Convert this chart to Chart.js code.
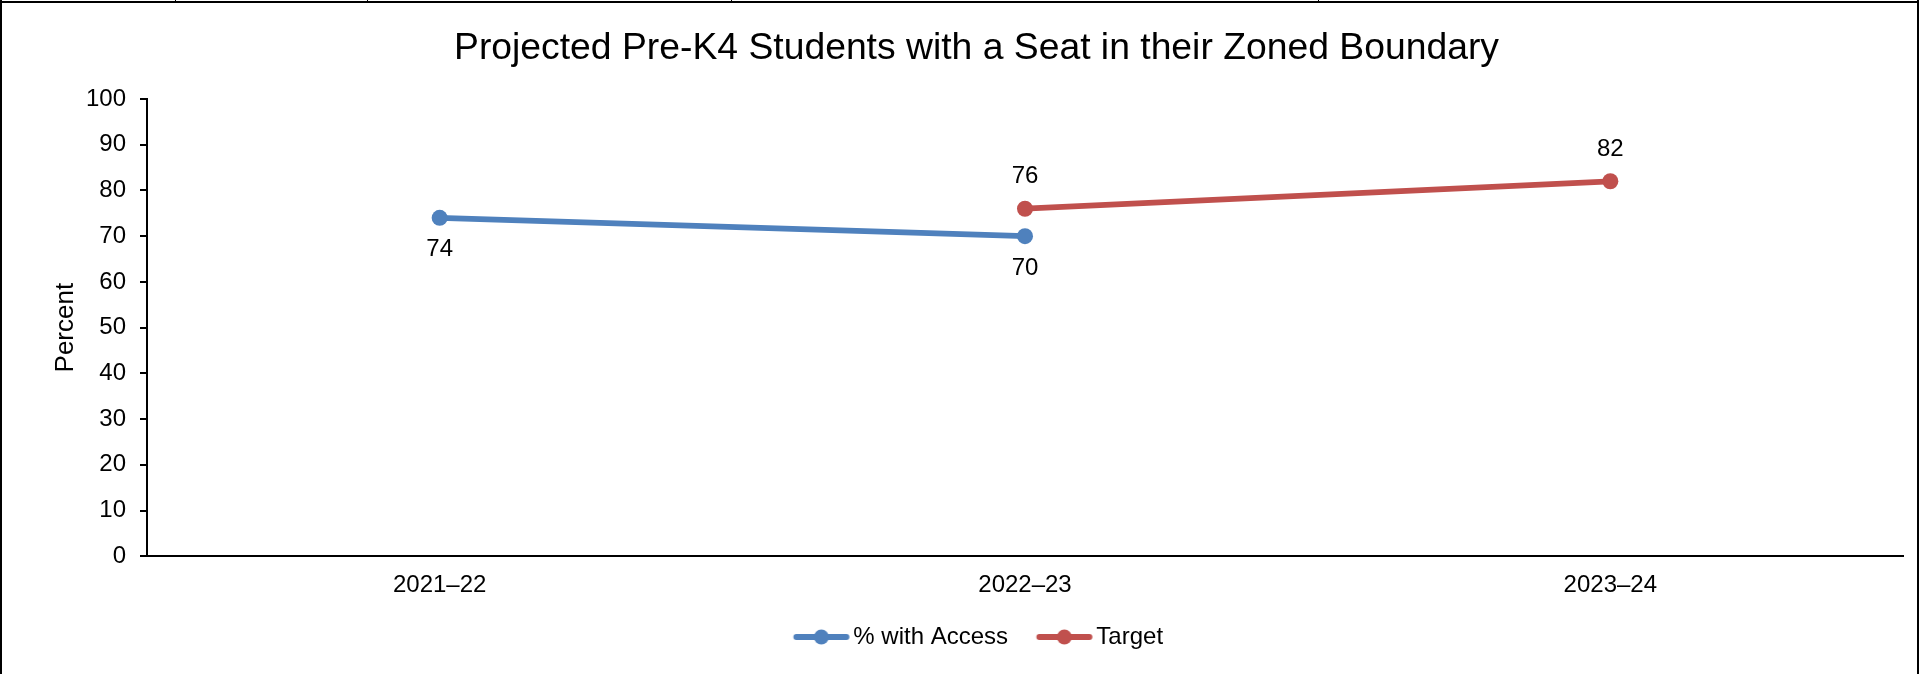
<!DOCTYPE html>
<html>
<head>
<meta charset="utf-8">
<title>Projected Pre-K4 Students with a Seat in their Zoned Boundary</title>
<script src="https://cdn.jsdelivr.net/npm/chart.js@4.4.1/dist/chart.umd.min.js"></script>
<style>
  html, body { margin: 0; padding: 0; background: #fff; overflow: hidden; }
  canvas { display: block; }
</style>
</head>
<body>
<canvas id="chart" width="1919" height="674"></canvas>
<script>
// School years on the x axis
const categories = ['2021\u201322', '2022\u201323', '2023\u201324'];
// Share of Pre-K4 students with a seat in their zoned boundary
const accessValues = [74, 70, null];
// Target share
const targetValues = [null, 76, 82];
// Percent axis
const yMin = 0;
const yMax = 100;
const yStep = 10;

const seriesNames = ['% with Access', 'Target'];
const seriesColors = ['#4F81BD', '#C0504D'];

const FONT = '"Liberation Sans", Arial, Helvetica, sans-serif';
Chart.defaults.font.family = FONT;
Chart.defaults.color = '#000';

// Legend symbol: a short line with a marker in the middle
const LEGEND_FONT = 24;
const LEGEND_BOX = 51.4;
const SYMBOL_W = 56;
const SYMBOL_GAP = 4;
function makeLegendSymbol(color) {
  const w = 70, h = 22;
  const c = document.createElement('canvas');
  c.width = w; c.height = h;
  const g = c.getContext('2d');
  const a = LEGEND_BOX / 2 + LEGEND_FONT / 2 - SYMBOL_GAP - SYMBOL_W + w / 2;
  g.strokeStyle = color;
  g.fillStyle = color;
  g.lineWidth = 6;
  g.lineCap = 'round';
  g.beginPath();
  g.moveTo(a + 3, h / 2);
  g.lineTo(a + SYMBOL_W - 3, h / 2);
  g.stroke();
  g.beginPath();
  g.arc(a + SYMBOL_W / 2, h / 2, 7.5, 0, Math.PI * 2);
  g.fill();
  return c;
}
const legendSymbols = seriesColors.map(makeLegendSymbol);

// Value labels: access below its points, target above
const valueLabels = {
  id: 'valueLabels',
  afterDatasetsDraw(chart) {
    const ctx = chart.ctx;
    ctx.save();
    ctx.font = '24px ' + FONT;
    ctx.fillStyle = '#000';
    ctx.textAlign = 'center';
    ctx.textBaseline = 'middle';
    chart.data.datasets.forEach((ds, di) => {
      const meta = chart.getDatasetMeta(di);
      const dy = di === 0 ? 32 : -32;
      meta.data.forEach((pt, i) => {
        const v = ds.data[i];
        if (v === null || v === undefined) return;
        ctx.fillText(String(v), pt.x, pt.y + dy);
      });
    });
    ctx.restore();
  }
};

// Frame around the chart
const frame = {
  id: 'frame',
  afterDraw(chart) {
    const ctx = chart.ctx;
    const W = chart.width, H = chart.height;
    ctx.save();
    ctx.strokeStyle = '#000';
    ctx.lineWidth = 2;
    ctx.beginPath();
    ctx.moveTo(0, 2); ctx.lineTo(W, 2);
    ctx.moveTo(1, 0); ctx.lineTo(1, H);
    ctx.moveTo(W - 1, 0); ctx.lineTo(W - 1, H);
    ctx.stroke();
    ctx.lineWidth = 1;
    ctx.beginPath();
    [175, 367, 731, 1318].forEach(x => { ctx.moveTo(x + 0.5, 0); ctx.lineTo(x + 0.5, 2); });
    ctx.stroke();
    ctx.restore();
  }
};

function seriesStyle(color) {
  return {
    borderColor: color,
    backgroundColor: color,
    pointBackgroundColor: color,
    pointBorderColor: color,
    borderWidth: 5.75,
    pointRadius: 8,
    pointHoverRadius: 8,
    pointBorderWidth: 0,
    tension: 0,
    fill: false
  };
}

new Chart(document.getElementById('chart'), {
  type: 'line',
  data: {
    labels: categories,
    datasets: [
      Object.assign({ label: seriesNames[0], data: accessValues }, seriesStyle(seriesColors[0])),
      Object.assign({ label: seriesNames[1], data: targetValues }, seriesStyle(seriesColors[1]))
    ]
  },
  options: {
    responsive: false,
    animation: false,
    events: [],
    layout: { padding: { left: 50, right: 16, top: 0, bottom: 15 } },
    plugins: {
      title: {
        display: true,
        text: 'Projected Pre-K4 Students with a Seat in their Zoned Boundary',
        color: '#000',
        font: { size: 37.3, weight: 'normal', family: FONT, lineHeight: 1.2 },
        padding: { top: 26.6, bottom: 27.6 }
      },
      legend: {
        display: true,
        position: 'bottom',
        labels: {
          color: '#000',
          font: { size: LEGEND_FONT, family: FONT },
          usePointStyle: true,
          pointStyleWidth: LEGEND_BOX,
          padding: 24.9,
          generateLabels(chart) {
            const items = Chart.defaults.plugins.legend.labels.generateLabels(chart);
            items.forEach((it, i) => { it.pointStyle = legendSymbols[i]; it.fontColor = '#000'; });
            return items;
          }
        }
      },
      tooltip: { enabled: false }
    },
    scales: {
      x: {
        type: 'category',
        offset: true,
        grid: { display: false, drawTicks: false },
        border: { display: true, color: '#000', width: 2 },
        ticks: { color: '#000', font: { size: 24, family: FONT }, padding: 14.6, maxRotation: 0 },
        afterFit(scale) { scale.height = 43.8; }
      },
      y: {
        min: yMin,
        max: yMax,
        ticks: { stepSize: yStep, color: '#000', font: { size: 24, family: FONT }, padding: 14 },
        grid: { drawOnChartArea: false, drawTicks: true, tickLength: 7, color: '#000', lineWidth: 2 },
        border: { display: true, color: '#000', width: 2 },
        title: {
          display: true,
          text: 'Percent',
          color: '#000',
          font: { size: 26, family: FONT, lineHeight: 1 },
          padding: { top: 3, bottom: 0 }
        },
        afterFit(scale) { scale.width = 97; }
      }
    }
  },
  plugins: [valueLabels, frame]
});
</script>
</body>
</html>
